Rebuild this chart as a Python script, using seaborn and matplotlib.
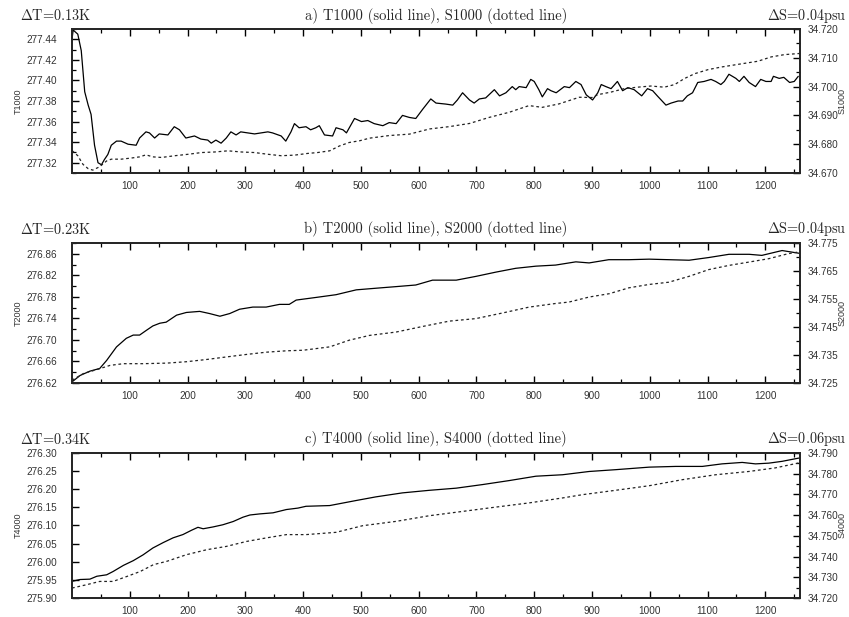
import numpy as np
import pandas as pd
import matplotlib
matplotlib.use("Agg")
import matplotlib.pyplot as plt
from matplotlib.ticker import FixedLocator, FormatStrFormatter
import seaborn as sns

# ---------------------------------------------------------------- data
# time axis (months) and the three depth levels

# 1000 m temperature (solid) and salinity (dotted)
t1000_x = [0, 2, 10, 16, 22, 28, 33, 39, 45, 51, 56, 62, 68, 77, 85, 97, 111, 117,
           128, 134, 143, 151, 166, 177, 186, 197, 212, 223, 235, 241, 249, 258, 267,
           275, 284, 292, 304, 316, 327, 339, 347, 362, 370, 379, 385, 393, 405, 413,
           422, 428, 437, 451, 457, 469, 475, 489, 501, 512, 523, 538, 549, 561, 572,
           584, 595, 607, 621, 630, 647, 659, 667, 676, 688, 696, 705, 716, 731, 740,
           751, 762, 768, 774, 786, 794, 800, 808, 814, 823, 829, 838, 852, 861, 872,
           881, 890, 901, 910, 916, 924, 933, 944, 953, 962, 973, 986, 996, 1005, 1013,
           1028, 1037, 1049, 1057, 1065, 1074, 1083, 1094, 1106, 1114, 1123, 1129, 1137,
           1149, 1155, 1163, 1172, 1183, 1192, 1201, 1210, 1214, 1224, 1232, 1242, 1250,
           1257]
t1000 = [277.440, 277.449, 277.445, 277.429, 277.389, 277.376, 277.367, 277.337,
         277.320, 277.318, 277.323, 277.328, 277.337, 277.341, 277.341, 277.338,
         277.337, 277.344, 277.350, 277.349, 277.344, 277.348, 277.347, 277.355,
         277.352, 277.344, 277.346, 277.343, 277.342, 277.339, 277.342, 277.339,
         277.344, 277.350, 277.347, 277.350, 277.349, 277.348, 277.349, 277.350,
         277.349, 277.346, 277.341, 277.350, 277.358, 277.354, 277.355, 277.352,
         277.354, 277.356, 277.347, 277.346, 277.354, 277.352, 277.349, 277.363,
         277.360, 277.361, 277.358, 277.356, 277.359, 277.358, 277.366, 277.364,
         277.363, 277.372, 277.382, 277.378, 277.377, 277.376, 277.381, 277.388,
         277.381, 277.378, 277.382, 277.383, 277.391, 277.385, 277.388, 277.394,
         277.391, 277.394, 277.393, 277.401, 277.399, 277.391, 277.384, 277.392,
         277.390, 277.388, 277.394, 277.393, 277.399, 277.396, 277.386, 277.381,
         277.388, 277.396, 277.394, 277.392, 277.399, 277.390, 277.393, 277.391,
         277.385, 277.392, 277.390, 277.385, 277.376, 277.378, 277.380, 277.380,
         277.385, 277.388, 277.398, 277.399, 277.401, 277.399, 277.396, 277.399,
         277.406, 277.402, 277.399, 277.404, 277.398, 277.394, 277.401, 277.399,
         277.399, 277.404, 277.402, 277.403, 277.398, 277.399, 277.404]

s1000_x = [0, 10, 19, 28, 36, 45, 51, 60, 68, 85, 103, 117, 128, 140, 155, 178, 201,
           224, 247, 270, 293, 316, 339, 362, 385, 408, 425, 446, 463, 480, 498, 515,
           549, 584, 619, 653, 688, 722, 757, 791, 814, 843, 878, 900, 910, 933, 956,
           979, 1002, 1025, 1043, 1060, 1078, 1101, 1124, 1152, 1187, 1210, 1233, 1259]
s1000 = [34.6778, 34.6760, 34.6730, 34.6715, 34.6710, 34.6719, 34.6727, 34.6742,
         34.6748, 34.6748, 34.6752, 34.6756, 34.6763, 34.6756, 34.6754, 34.6760,
         34.6765, 34.6771, 34.6773, 34.6777, 34.6773, 34.6771, 34.6765, 34.6760,
         34.6762, 34.6768, 34.6771, 34.6777, 34.6794, 34.6806, 34.6812, 34.6821,
         34.6830, 34.6835, 34.6853, 34.6861, 34.6872, 34.6893, 34.6911, 34.6934,
         34.6928, 34.6940, 34.6963, 34.6962, 34.6972, 34.6981, 34.6993, 34.6998,
         34.7002, 34.6998, 34.7007, 34.7028, 34.7045, 34.7059, 34.7068, 34.7077,
         34.7088, 34.7103, 34.7111, 34.7115]

# 2000 m
t2000_x = [0, 14, 31, 48, 60, 77, 94, 106, 117, 129, 140, 152, 163, 181, 198, 221,
           238, 256, 273, 290, 313, 336, 359, 376, 388, 423, 457, 492, 526, 561, 595,
           624, 665, 699, 734, 768, 803, 837, 872, 895, 929, 964, 999, 1033, 1068,
           1102, 1137, 1172, 1194, 1229, 1258]
t2000 = [276.622, 276.634, 276.642, 276.647, 276.662, 276.687, 276.703, 276.709,
         276.709, 276.718, 276.726, 276.731, 276.733, 276.746, 276.751, 276.753,
         276.749, 276.744, 276.749, 276.757, 276.761, 276.761, 276.766, 276.766,
         276.774, 276.779, 276.784, 276.793, 276.796, 276.799, 276.802, 276.811,
         276.811, 276.818, 276.826, 276.833, 276.837, 276.839, 276.845, 276.843,
         276.849, 276.849, 276.850, 276.849, 276.848, 276.853, 276.859, 276.859,
         276.857, 276.866, 276.861]

s2000_x = [0, 20, 43, 66, 89, 123, 164, 198, 233, 267, 302, 336, 371, 400, 446, 480,
           515, 561, 607, 653, 699, 745, 791, 837, 860, 895, 930, 964, 999, 1033,
           1068, 1102, 1137, 1172, 1206, 1240, 1258]
s2000 = [34.7260, 34.7284, 34.7298, 34.7313, 34.7319, 34.7319, 34.7321, 34.7326,
         34.7334, 34.7343, 34.7352, 34.7360, 34.7365, 34.7367, 34.7379, 34.7403,
         34.7420, 34.7432, 34.7452, 34.7471, 34.7480, 34.7500, 34.7521, 34.7534,
         34.7539, 34.7557, 34.7569, 34.7590, 34.7602, 34.7610, 34.7631, 34.7655,
         34.7670, 34.7682, 34.7694, 34.7712, 34.7718]

# 4000 m
t4000_x = [0, 14, 31, 43, 60, 71, 89, 106, 123, 140, 158, 175, 192, 207, 218, 227,
           244, 261, 279, 296, 308, 325, 348, 371, 391, 405, 446, 492, 526, 572, 618,
           665, 711, 757, 803, 849, 895, 941, 999, 1045, 1091, 1125, 1160, 1183,
           1206, 1229, 1258]
t4000 = [275.946, 275.951, 275.952, 275.960, 275.964, 275.973, 275.990, 276.003,
         276.019, 276.038, 276.053, 276.066, 276.075, 276.087, 276.095, 276.091,
         276.096, 276.102, 276.111, 276.123, 276.129, 276.132, 276.135, 276.144,
         276.148, 276.153, 276.155, 276.169, 276.179, 276.190, 276.197, 276.203,
         276.213, 276.224, 276.236, 276.240, 276.249, 276.254, 276.261, 276.263,
         276.263, 276.270, 276.274, 276.270, 276.272, 276.277, 276.286]

s4000_x = [0, 25, 48, 71, 95, 118, 141, 164, 198, 233, 267, 302, 336, 371, 405, 457,
           503, 561, 618, 676, 734, 791, 849, 884, 941, 999, 1056, 1114, 1172, 1217,
           1258]
s4000 = [34.7248, 34.7264, 34.7280, 34.7280, 34.7304, 34.7328, 34.7361, 34.7377,
         34.7409, 34.7433, 34.7449, 34.7473, 34.7490, 34.7506, 34.7506, 34.7517,
         34.7549, 34.7570, 34.7597, 34.7618, 34.7639, 34.7659, 34.7683, 34.7699,
         34.7720, 34.7742, 34.7771, 34.7795, 34.7811, 34.7828, 34.7852]

titles = ["a) T1000 (solid line), S1000 (dotted line)",
          "b) T2000 (solid line), S2000 (dotted line)",
          "c) T4000 (solid line), S4000 (dotted line)"]
t_names = ["T1000", "T2000", "T4000"]
s_names = ["S1000", "S2000", "S4000"]
delta_t = [r"$\Delta$T=0.13K", r"$\Delta$T=0.23K", r"$\Delta$T=0.34K"]
delta_s = [r"$\Delta$S=0.04psu", r"$\Delta$S=0.04psu", r"$\Delta$S=0.06psu"]

t_ticks = [np.arange(277.32, 277.445, 0.02), np.arange(276.62, 276.865, 0.04),
           np.arange(275.90, 276.305, 0.05)]
t_minor = [np.arange(277.31, 277.455, 0.01), np.arange(276.62, 276.885, 0.02), []]
s_ticks = [np.arange(34.670, 34.7205, 0.01), np.arange(34.725, 34.7755, 0.01),
           np.arange(34.720, 34.7905, 0.01)]
s_minor = [np.arange(34.670, 34.7205, 0.005), np.arange(34.725, 34.7755, 0.005),
           np.arange(34.720, 34.7905, 0.005)]
t_lims = [(277.31, 277.45), (276.62, 276.88), (275.90, 276.30)]
s_lims = [(34.670, 34.720), (34.725, 34.775), (34.720, 34.790)]

series_t = [(t1000_x, t1000), (t2000_x, t2000), (t4000_x, t4000)]
series_s = [(s1000_x, s1000), (s2000_x, s2000), (s4000_x, s4000)]

# ---------------------------------------------------------------- style
sns.set_theme(style="ticks")
plt.rcParams["font.family"] = ["Liberation Sans", "DejaVu Sans"]
plt.rcParams["mathtext.fontset"] = "cm"
plt.rcParams["axes.linewidth"] = 1.3

W, H = 849, 617
fig = plt.figure(figsize=(W / 100, H / 100), dpi=100)

# axes boxes in pixels: (top, bottom)
boxes = [(29, 173), (243, 383), (453, 598)]
text_y = [16, 229, 439]
left_px, right_px = 72, 800
span = right_px - left_px

serif = "cmr10"
tick_col = "#333333"

for i in range(3):
    top, bot = boxes[i]
    ax = fig.add_axes([left_px / W, 1 - bot / H, span / W, (bot - top) / H])
    tx, ty = series_t[i]
    sx, sy = series_s[i]
    df_t = pd.DataFrame({"month": tx, t_names[i]: ty})
    df_s = pd.DataFrame({"month": sx, s_names[i]: sy})

    sns.lineplot(data=df_t, x="month", y=t_names[i], ax=ax, color="black",
                 linewidth=0.9, estimator=None)
    ax2 = ax.twinx()
    sns.lineplot(data=df_s, x="month", y=s_names[i], ax=ax2, color="#222222",
                 linewidth=0.9, estimator=None, linestyle=(0, (2.2, 2.2)))

    ax.set_xlim(0, 1260)
    ax.set_ylim(*t_lims[i])
    ax2.set_ylim(*s_lims[i])

    ax.xaxis.set_major_locator(FixedLocator(np.arange(100, 1201, 100)))
    ax.xaxis.set_minor_locator(FixedLocator(np.arange(50, 1260, 100)))
    ax.yaxis.set_major_locator(FixedLocator(np.round(t_ticks[i], 3)))
    ax.yaxis.set_minor_locator(FixedLocator(np.round(t_minor[i], 3)))
    ax.yaxis.set_major_formatter(FormatStrFormatter("%.2f"))
    ax2.yaxis.set_major_locator(FixedLocator(np.round(s_ticks[i], 4)))
    ax2.yaxis.set_minor_locator(FixedLocator(np.round(s_minor[i], 4)))
    ax2.yaxis.set_major_formatter(FormatStrFormatter("%.3f"))

    ax.tick_params(axis="x", which="both", direction="in", top=True, bottom=True,
                   colors="black", labelcolor=tick_col, labelsize=7.2, pad=5.5)
    ax.tick_params(axis="y", which="both", direction="in", left=True, right=False,
                   colors="black", labelcolor=tick_col, labelsize=7.2, pad=11)
    ax.tick_params(which="major", length=5, width=1.0)
    ax.tick_params(which="minor", length=3, width=0.9)
    ax2.tick_params(axis="y", which="both", direction="in", right=True,
                    colors="black", labelcolor=tick_col, labelsize=7.2, pad=5.5)
    ax2.tick_params(which="major", length=5, width=1.0)
    ax2.tick_params(which="minor", length=3, width=0.9)

    ax.set_xlabel("")
    ax.set_ylabel(t_names[i], fontsize=6.5, color=tick_col)
    ax.yaxis.set_label_coords(-(left_px - 23) / span, 0.5)
    ax2.set_ylabel(s_names[i], fontsize=6.5, color=tick_col)
    ax2.yaxis.set_label_coords(1 + (838 - right_px) / span, 0.5)

    for a in (ax, ax2):
        for sp in a.spines.values():
            sp.set_visible(True)
            sp.set_linewidth(1.3)

    y = 1 - text_y[i] / H
    fig.text(20 / W, y, delta_t[i], family=serif, fontsize=10.3, va="center", ha="left")
    fig.text((left_px + right_px) / 2 / W, y, titles[i], family=serif, fontsize=10.5,
             va="center", ha="center")
    fig.text(847 / W, y, delta_s[i], family=serif, fontsize=10.3, va="center", ha="right")

fig.savefig("out.png", dpi=100)
